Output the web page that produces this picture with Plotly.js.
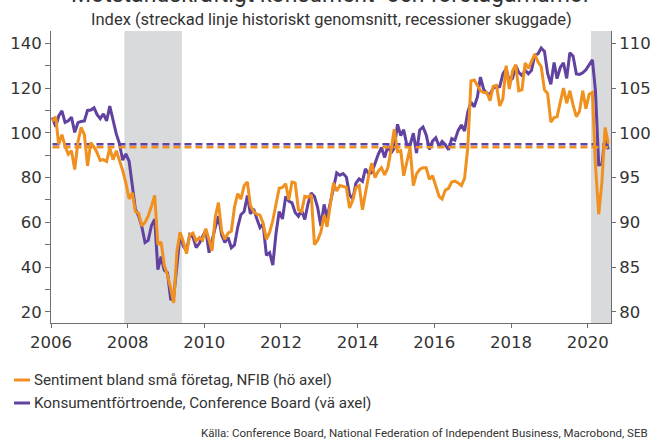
<!DOCTYPE html>
<html>
<head>
<meta charset="utf-8">
<script src="https://cdn.plot.ly/plotly-3.0.1.min.js"></script>
<style>html,body{margin:0;padding:0;background:#fff;}#chart{width:656px;height:441px;}</style>
</head>
<body>
<div id="chart"></div>
<script>
// Monthly data, Jan 2006 – Jul 2020
const startYear = 2006;
const confBoard = [
106.8,102.7,107.5,109.8,104.7,105.4,107.0,100.2,104.5,105.1,105.3,110.0,
110.2,111.2,108.2,106.3,108.5,105.3,111.9,105.6,99.5,95.2,87.8,90.6,
87.3,76.4,65.9,62.8,58.1,51.0,51.9,58.5,61.4,38.8,44.7,38.6,
37.4,25.3,26.9,40.8,54.8,49.3,47.4,54.5,53.4,48.7,50.6,53.6,
56.5,46.4,52.3,57.7,62.7,54.3,51.0,53.2,48.6,49.9,57.8,63.4,
64.8,72.0,63.8,66.0,61.7,57.6,59.2,45.2,46.4,40.9,55.2,64.8,
61.5,71.6,69.5,68.7,64.4,62.7,65.4,61.3,68.4,73.1,71.5,66.7,
58.4,68.0,61.9,69.0,76.2,82.1,81.0,81.8,80.2,72.4,70.4,77.5,
79.4,78.3,83.9,81.7,82.2,86.4,90.3,93.4,89.0,94.1,91.0,93.1,
103.8,98.8,101.4,94.3,94.6,99.8,91.0,101.3,102.6,99.1,92.6,96.3,
97.8,94.0,96.2,94.7,92.4,97.4,96.7,101.1,103.5,100.8,109.4,113.7,
111.6,116.1,124.9,119.4,117.6,117.3,120.0,120.4,120.6,126.2,128.6,123.1,
124.3,130.0,127.0,125.6,128.0,126.4,127.9,134.7,135.3,137.9,136.4,126.6,
121.7,131.4,124.2,129.2,131.3,124.3,135.8,134.2,126.3,126.1,126.8,128.2,
130.4,132.6,118.8,85.7,85.9,98.1,92.6];
const nfib = [
101.3,101.8,98.7,99.8,98.5,97.6,98.0,95.9,99.0,100.6,99.8,96.3,
98.9,98.4,97.8,96.9,97.0,96.8,98.3,97.0,98.0,97.0,95.8,94.4,
92.6,93.3,91.2,91.0,89.6,90.0,90.7,91.8,93.0,87.5,87.8,85.2,
84.1,82.6,81.0,86.8,88.9,87.8,86.5,88.6,88.8,87.9,88.3,88.0,
89.3,88.0,86.8,90.6,92.2,89.0,88.1,88.8,89.0,91.7,93.2,92.6,
94.1,94.5,91.9,91.2,90.9,90.8,89.9,88.1,88.9,90.2,92.0,93.8,
93.9,94.3,92.5,94.5,94.4,91.4,91.2,92.9,92.8,93.1,87.5,88.0,
88.9,90.8,89.5,92.1,94.4,93.5,94.1,94.0,93.9,91.6,92.5,93.9,
94.1,91.4,93.4,95.2,96.6,95.0,95.7,96.1,95.3,96.1,98.1,100.4,
97.9,98.0,95.2,96.9,98.3,94.1,95.4,95.9,96.1,96.1,94.8,95.2,
93.9,92.9,92.6,93.6,93.8,94.5,94.6,94.4,94.1,94.9,98.4,105.8,
105.9,105.3,104.7,104.5,104.5,103.6,105.2,105.3,103.0,103.8,107.5,104.9,
106.9,107.6,104.7,104.8,107.8,107.2,107.9,108.8,107.9,107.4,104.8,104.4,
101.2,101.7,101.8,103.5,105.0,103.3,104.7,103.1,101.8,102.4,104.7,102.7,
104.3,104.5,96.4,90.9,94.4,100.6,98.8];
const confBoardAvg = 94.9;
const nfibAvg = 98.4;
const recessionStart = ['2007-12-01', '2020-02-01'];
const recessionEnd = ['2009-06-01', '2020-08-10'];
const xRange = ['2006-01-01', '2020-08-10'];
const tickYears = ['2006','2008','2010','2012','2014','2016','2018','2020'];

const titleText = 'Motståndskraftigt konsument- och företagarhumör';
const subtitleText = 'Index (streckad linje historiskt genomsnitt, recessioner skuggade)';
const nfibName = 'Sentiment bland små företag, NFIB (hö axel)';
const cbName = 'Konsumentförtroende, Conference Board (vä axel)';
const sourceText = 'Källa: Conference Board, National Federation of Independent Business, Macrobond, SEB';

const ORANGE = '#F0901E';
const PURPLE = '#6142A0';
const TXT = '#333333';
const AX = '#6e6e6e';

function pad(n){return (n<10?'0':'')+n;}
const dates = confBoard.map((_, i) => (startYear + Math.floor(i/12)) + '-' + pad(i%12+1) + '-15');

const traces = [
  {x: dates, y: confBoard, type:'scatter', mode:'lines', name: cbName, yaxis:'y',
   line:{color:PURPLE, width:3}},
  {x: dates, y: nfib, type:'scatter', mode:'lines', name: nfibName, yaxis:'y2',
   line:{color:ORANGE, width:3}},
  {x: [dates[0], dates[dates.length-1]], y:[confBoardAvg, confBoardAvg], type:'scatter', mode:'lines',
   yaxis:'y', line:{color:PURPLE, width:2.5, dash:'7px,4px'}, showlegend:false},
  {x: [dates[0], dates[dates.length-1]], y:[nfibAvg, nfibAvg], type:'scatter', mode:'lines',
   yaxis:'y2', line:{color:ORANGE, width:2.5, dash:'7px,4px'}, showlegend:false}
];

const shapes = recessionStart.map((s, i) => ({
  type:'rect', xref:'x', yref:'paper', x0:s, x1:recessionEnd[i], y0:0, y1:1,
  fillcolor:'#D9DADC', line:{width:0}, layer:'below'
}));

// custom legend samples
const PL = 51, PW = 560, PT = 31, PH = 292;
function px2x(p){return (p-PL)/PW;}
function py2y(p){return (PT+PH-p)/PH;}
[[380, ORANGE],[403, PURPLE]].forEach(([py, c]) => {
  shapes.push({type:'line', xref:'paper', yref:'paper', x0:px2x(14), x1:px2x(30), y0:py2y(py), y1:py2y(py),
    line:{color:c, width:3}});
});

const annotations = [
  {text:titleText, xref:'paper', yref:'paper', x:px2x(331), y:py2y(-5), xanchor:'center', yanchor:'middle',
   showarrow:false, font:{family:'Roboto', size:23, color:TXT}},
  {text:subtitleText, xref:'paper', yref:'paper', x:px2x(331), y:py2y(20), xanchor:'center', yanchor:'middle',
   showarrow:false, font:{family:'Roboto', size:16.5, color:TXT}},
  {text:nfibName, xref:'paper', yref:'paper', x:px2x(32), y:py2y(380), xanchor:'left', yanchor:'middle',
   showarrow:false, font:{family:'Roboto', size:15.2, color:TXT}},
  {text:cbName, xref:'paper', yref:'paper', x:px2x(32), y:py2y(403), xanchor:'left', yanchor:'middle',
   showarrow:false, font:{family:'Roboto', size:15.2, color:TXT}},
  {text:sourceText, xref:'paper', yref:'paper', x:px2x(650), y:py2y(433), xanchor:'right', yanchor:'middle',
   showarrow:false, font:{family:'Roboto', size:11.5, color:TXT}}
];

const tickFont = {family:'DejaVu Sans', size:16.5, color:TXT};

const layout = {
  width:656, height:441,
  margin:{l:51, r:45, t:31, b:118},
  paper_bgcolor:'#ffffff', plot_bgcolor:'#ffffff',
  showlegend:false,
  xaxis:{type:'date', range:xRange, tickvals:tickYears.map(y => y+'-01-01'), ticktext:tickYears,
    ticks:'outside', ticklen:4, tickcolor:AX, showline:true, linecolor:AX, linewidth:1,
    showgrid:false, zeroline:false, tickfont:tickFont},
  yaxis:{range:[15,145.5], tick0:20, dtick:20, ticks:'outside', ticklen:5, tickcolor:AX,
    minor:{dtick:10, tick0:20, ticks:'outside', ticklen:5, tickcolor:AX},
    showline:true, linecolor:AX, linewidth:1, showgrid:false, zeroline:false, tickfont:tickFont},
  yaxis2:{overlaying:'y', side:'right', range:[78.75,111.375], tick0:80, dtick:5, ticks:'outside', ticklen:4,
    tickcolor:AX, showline:true, linecolor:AX, linewidth:1, showgrid:false, zeroline:false, tickfont:tickFont},
  shapes:shapes,
  annotations:annotations
};

Plotly.newPlot('chart', traces, layout, {staticPlot:true, displayModeBar:false});
</script>
</body>
</html>
